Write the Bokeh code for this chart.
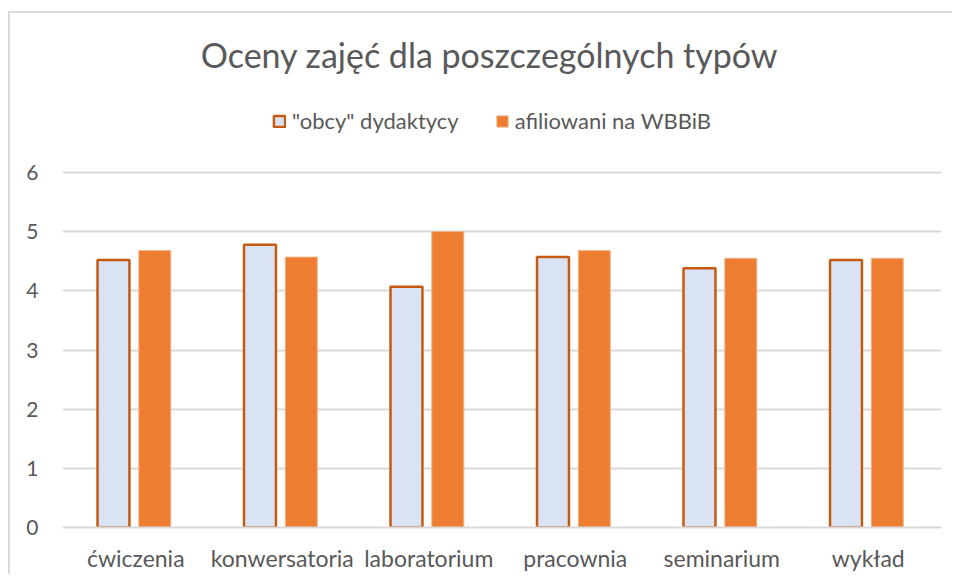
from bokeh.plotting import figure
from bokeh.models import ColumnDataSource, FactorRange, Range1d, Legend, LegendItem, FixedTicker, Label
from bokeh.transform import dodge
from bokeh.embed import file_html
from bokeh.resources import INLINE

categories = ["ćwiczenia", "konwersatoria", "laboratorium", "pracownia", "seminarium", "wykład"]
obcy = [4.52, 4.78, 4.07, 4.57, 4.38, 4.52]
afiliowani = [4.68, 4.57, 5.0, 4.68, 4.55, 4.55]
series_names = ['"obcy" dydaktycy', "afiliowani na WBBiB"]
y_ticks = [0, 1, 2, 3, 4, 5, 6]
title_text = "Oceny zajęć dla poszczególnych typów"

FONT = "Lato"
TXT = "#595959"

src = ColumnDataSource(dict(cat=categories, obcy=obcy, afil=afiliowani))

# frame spans from the top of the canvas down to the 0 line; 6 sits at 172px
# the light chart-area border is painted with inset shadows (no effect on layout)
p = figure(
    x_range=FactorRange(*categories),
    y_range=Range1d(0, 527 / (355 / 6)),
    width=952, height=574,
    output_backend="svg", toolbar_location=None,
    min_border_left=62, min_border_right=11, min_border_bottom=47, min_border_top=0,
    styles={"box-shadow": "inset 8px 0 0 0 #ffffff, inset 0 11px 0 0 #ffffff, "
                          "inset 10px 0 0 0 #d9d9d9, inset 0 13px 0 0 #d9d9d9",
            "background-color": "#ffffff"},
)
p.outline_line_color = None
p.background_fill_color = None
p.border_fill_color = None

r1 = p.vbar(x=dodge("cat", -0.152, range=p.x_range), top="obcy", width=0.218, source=src,
            fill_color="#DAE3F3", line_color="#C55A11", line_width=2.5)
r2 = p.vbar(x=dodge("cat", 0.13, range=p.x_range), top="afil", width=0.218, source=src,
            fill_color="#ED7D31", line_color="#F4B183", line_width=1)

title = Label(x=2.915, y=7.995, text=title_text, text_align="center", text_baseline="middle",
              text_font=FONT, text_font_size="34px", text_color=TXT)
p.add_layout(title)

legend = Legend(items=[LegendItem(label=series_names[0], renderers=[r1]),
                       LegendItem(label=series_names[1], renderers=[r2])],
                orientation="horizontal", location=(210, 393),
                label_text_font=FONT, label_text_font_size="22px", label_text_color=TXT,
                glyph_width=14, glyph_height=14, label_standoff=6, spacing=36,
                border_line_color=None, background_fill_alpha=0, margin=0, padding=4)
p.add_layout(legend, "center")

p.yaxis.ticker = FixedTicker(ticks=y_ticks)
p.yaxis.axis_line_color = None
p.yaxis.major_tick_line_color = None
p.yaxis.minor_tick_line_color = None
p.yaxis.major_tick_out = 0
p.yaxis.major_tick_in = 0
p.yaxis.major_label_standoff = 24
p.yaxis.major_label_text_font = FONT
p.yaxis.major_label_text_font_size = "21px"
p.yaxis.major_label_text_color = TXT

p.xaxis.axis_line_color = "#D9D9D9"
p.xaxis.axis_line_width = 2
p.xaxis.major_tick_line_color = None
p.xaxis.minor_tick_line_color = None
p.xaxis.major_tick_out = 0
p.xaxis.major_tick_in = 0
p.xaxis.major_label_standoff = 16
p.xaxis.major_label_text_font = FONT
p.xaxis.major_label_text_font_size = "23px"
p.xaxis.major_label_text_color = TXT

p.xgrid.grid_line_color = None
p.ygrid.grid_line_color = "#D9D9D9"
p.ygrid.grid_line_width = 2

open("out.html", "w").write(file_html(p, INLINE))
